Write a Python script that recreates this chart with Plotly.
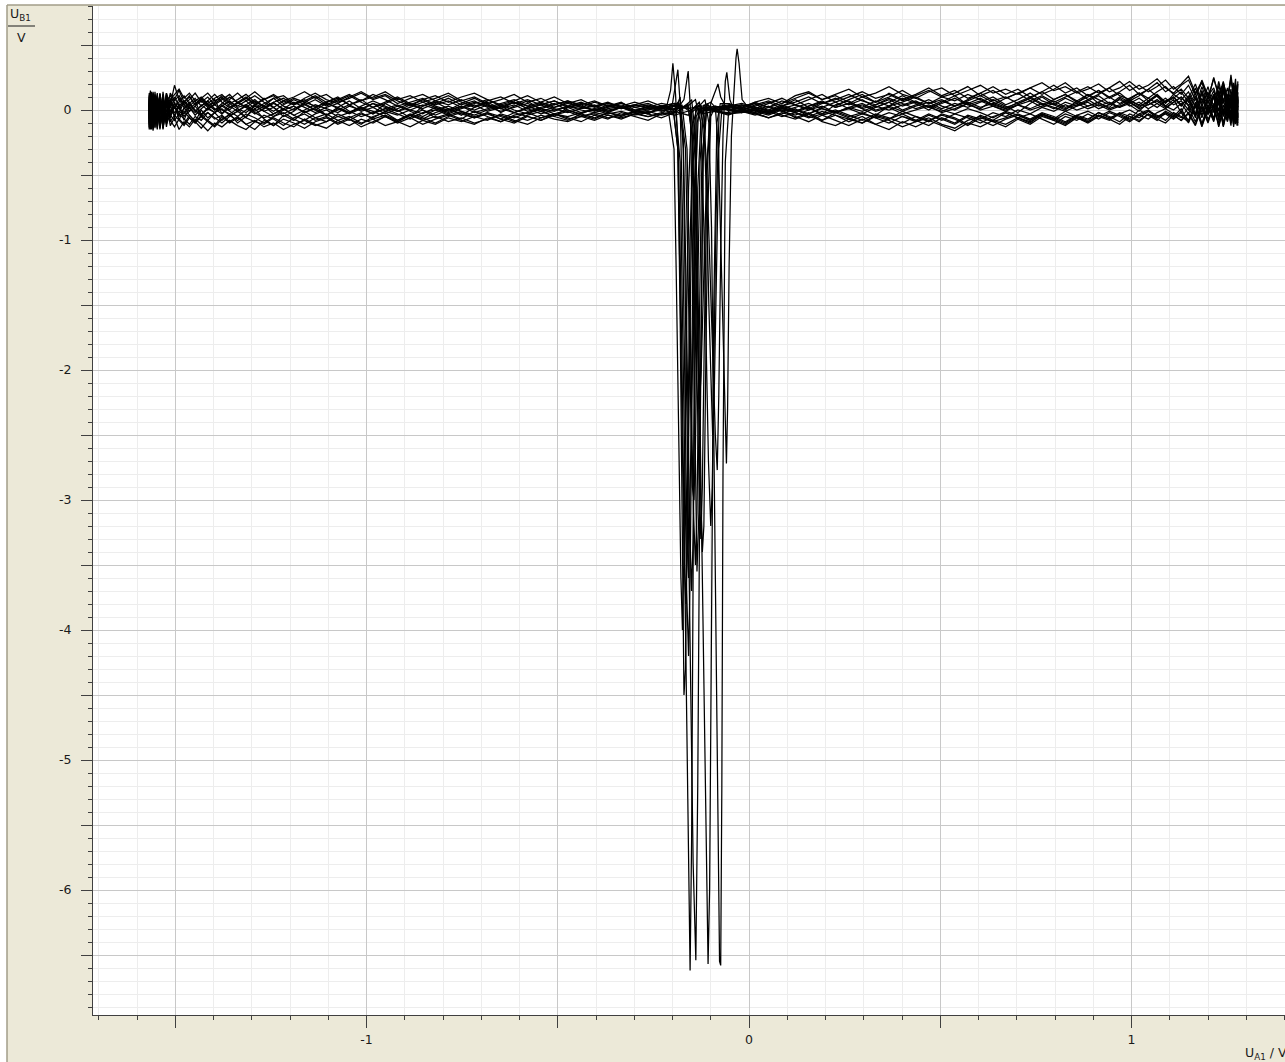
import plotly.graph_objects as go

# ---------------- data ----------------
# U_A1 sweep positions (V) shared by all recorded sweeps
U_A1 = [
    -1.568, -1.567, -1.565, -1.562, -1.558, -1.553, -1.547, -1.540, -1.532, -1.523,
    -1.513, -1.502, -1.490, -1.477, -1.463, -1.448, -1.432, -1.415, -1.397, -1.378,
    -1.358, -1.337, -1.315, -1.292, -1.268, -1.243, -1.217, -1.190, -1.162, -1.134,
    -1.105, -1.075, -1.045, -1.014, -0.983, -0.951, -0.919, -0.886, -0.853, -0.820,
    -0.786, -0.752, -0.718, -0.684, -0.649, -0.614, -0.579, -0.544, -0.509, -0.474,
    -0.439, -0.404, -0.369, -0.334, -0.299, -0.264, -0.229, -0.194, -0.159, -0.124,
    -0.089, -0.054, -0.019, 0.016, 0.051, 0.086, 0.121, 0.156, 0.191, 0.226,
    0.261, 0.296, 0.331, 0.366, 0.401, 0.436, 0.470, 0.504, 0.538, 0.572,
    0.605, 0.638, 0.671, 0.703, 0.735, 0.766, 0.797, 0.827, 0.857, 0.886,
    0.914, 0.942, 0.969, 0.995, 1.020, 1.044, 1.067, 1.089, 1.110, 1.130,
    1.149, 1.167, 1.184, 1.200, 1.215, 1.228, 1.240, 1.251, 1.260, 1.267,
    1.272, 1.276, 1.278,
]

# U_B1 baseline (V) of each sweep on the U_A1 positions
UB1_01 = [
    0.10, -0.12, 0.08, -0.14, 0.11, -0.09, 0.12, -0.13, 0.06, -0.10,
    0.09, -0.06, 0.05, -0.08, 0.03, 0.07, -0.04, 0.02, 0.08, -0.03,
    0.05, 0.01, -0.06, 0.04, 0.09, 0.02, -0.05, -0.01, 0.06, 0.03,
    -0.04, 0.02, 0.07, 0.01, -0.03, 0.05, 0.00, -0.06, 0.03, 0.06,
    0.01, -0.04, 0.02, 0.05, -0.02, 0.03, 0.07, 0.00, -0.05, 0.02,
    0.04, -0.01, 0.03, 0.06, 0.00, -0.03, 0.02, 0.01, 0.03, 0.00,
    0.02, 0.04, 0.01, 0.05, -0.02, 0.03, 0.08, 0.02, -0.03, 0.04,
    0.07, 0.01, -0.04, 0.03, 0.09, 0.05, 0.00, 0.06, 0.11, 0.04,
    0.01, 0.08, 0.03, -0.02, 0.05, 0.10, 0.04, 0.00, 0.07, 0.12,
    0.05, 0.02, 0.09, 0.04, -0.01, 0.06, 0.11, 0.03, 0.08, -0.02,
    0.10, -0.06, 0.14, -0.04, 0.12, -0.08, 0.16, -0.05, 0.13, -0.09,
    0.15, -0.07, 0.11,
]
UB1_02 = [
    -0.13, 0.09, -0.10, 0.13, -0.07, 0.10, -0.14, 0.07, -0.11, 0.08,
    -0.05, 0.06, -0.08, 0.02, -0.04, -0.09, 0.00, -0.06, -0.02, -0.08,
    -0.03, -0.10, -0.05, 0.01, -0.07, -0.12, -0.04, -0.08, -0.01, -0.06,
    -0.09, -0.03, -0.07, -0.11, -0.05, -0.02, -0.08, -0.04, 0.00, -0.06,
    -0.03, -0.07, -0.01, -0.05, -0.09, -0.04, -0.02, -0.06, -0.03, 0.00,
    -0.04, -0.07, -0.02, -0.05, -0.01, -0.03, -0.06, -0.02, 0.00, -0.03,
    -0.01, -0.04, 0.00, -0.02, -0.06, -0.03, 0.01, -0.05, -0.08, -0.02,
    -0.06, -0.10, -0.04, -0.07, -0.01, -0.05, -0.09, -0.03, -0.06, -0.11,
    -0.04, -0.08, -0.02, -0.06, -0.10, -0.03, -0.07, -0.01, -0.05, -0.08,
    -0.02, -0.06, -0.03, -0.07, 0.00, -0.04, -0.08, -0.02, -0.05, 0.01,
    -0.09, 0.06, -0.11, 0.04, -0.07, 0.09, -0.12, 0.05, -0.08, 0.10,
    -0.10, 0.07, -0.06,
]
UB1_03 = [
    0.05, -0.08, 0.12, -0.05, 0.09, -0.11, 0.04, 0.10, -0.07, 0.13,
    0.02, 0.08, 0.15, 0.06, 0.11, 0.04, 0.09, 0.13, 0.07, 0.10,
    0.05, 0.08, 0.12, 0.06, 0.03, 0.09, 0.11, 0.05, 0.08, 0.02,
    0.06, 0.10, 0.04, 0.07, 0.12, 0.08, 0.03, 0.06, 0.09, 0.04,
    0.07, 0.02, 0.05, 0.08, 0.03, 0.06, 0.01, 0.04, 0.07, 0.02,
    0.05, 0.03, 0.06, 0.02, 0.04, 0.07, 0.03, 0.05, 0.02, 0.04,
    0.03, 0.05, 0.02, 0.06, 0.09, 0.05, 0.11, 0.14, 0.08, 0.12,
    0.16, 0.10, 0.13, 0.18, 0.12, 0.09, 0.14, 0.17, 0.11, 0.15,
    0.19, 0.13, 0.16, 0.12, 0.17, 0.21, 0.15, 0.18, 0.13, 0.16,
    0.20, 0.14, 0.17, 0.22, 0.16, 0.19, 0.24, 0.17, 0.13, 0.19,
    0.23, 0.12, 0.21, 0.08, 0.25, 0.10, 0.22, 0.06, 0.27, 0.11,
    0.24, 0.05, 0.20,
]
UB1_04 = [
    -0.15, 0.06, -0.12, 0.09, -0.16, 0.03, -0.10, 0.11, -0.14, 0.05,
    -0.12, -0.06, -0.15, -0.09, -0.13, -0.07, -0.11, -0.16, -0.10, -0.13,
    -0.08, -0.12, -0.15, -0.09, -0.11, -0.06, -0.10, -0.13, -0.07, -0.11,
    -0.14, -0.08, -0.05, -0.10, -0.07, -0.12, -0.09, -0.04, -0.08, -0.11,
    -0.06, -0.09, -0.05, -0.02, -0.07, -0.10, -0.05, -0.08, -0.03, -0.06,
    -0.09, -0.04, -0.07, -0.02, -0.05, -0.08, -0.03, -0.01, -0.04, -0.02,
    0.00, -0.03, 0.01, -0.02, 0.02, -0.01, -0.04, 0.00, 0.03, -0.02,
    0.01, 0.04, -0.01, 0.02, -0.03, 0.00, 0.03, -0.02, 0.01, 0.05,
    0.00, 0.03, -0.01, 0.04, 0.07, 0.02, 0.05, 0.01, 0.04, 0.08,
    0.03, 0.06, 0.02, 0.05, 0.09, 0.04, 0.07, 0.02, 0.06, 0.10,
    0.04, -0.05, 0.09, -0.03, 0.12, -0.06, 0.08, -0.04, 0.11, -0.02,
    0.07, -0.05, 0.09,
]
UB1_05 = [
    0.08, -0.05, 0.14, -0.10, 0.06, -0.13, 0.10, -0.04, 0.12, -0.08,
    0.04, 0.19, 0.08, 0.02, 0.06, -0.01, 0.03, 0.07, 0.01, -0.03,
    0.02, 0.05, 0.09, 0.04, 0.08, 0.12, 0.07, 0.10, 0.14, 0.09,
    0.12, 0.06, 0.09, 0.13, 0.08, 0.11, 0.05, 0.09, 0.12, 0.07,
    0.04, 0.08, 0.03, 0.06, 0.01, 0.04, -0.01, 0.02, 0.05, 0.00,
    -0.03, 0.01, -0.02, 0.02, -0.01, 0.03, 0.00, 0.02, 0.04, 0.01,
    0.03, 0.00, 0.02, -0.01, -0.04, 0.00, -0.06, -0.02, -0.08, -0.04,
    -0.09, -0.05, -0.11, -0.07, -0.03, -0.08, -0.12, -0.06, -0.10, -0.04,
    -0.07, -0.02, -0.05, 0.00, -0.03, 0.02, -0.01, 0.04, 0.00, 0.03,
    0.06, 0.01, 0.04, 0.08, 0.03, 0.06, 0.02, 0.07, 0.10, 0.04,
    0.08, -0.04, 0.13, -0.02, 0.10, -0.07, 0.15, 0.00, 0.11, -0.05,
    0.14, -0.03, 0.08,
]
UB1_06 = [
    -0.10, 0.12, -0.06, 0.08, -0.13, 0.10, -0.08, 0.13, -0.05, 0.09,
    -0.02, 0.05, 0.01, -0.03, 0.04, 0.00, -0.05, -0.02, -0.07, -0.04,
    -0.09, -0.05, -0.11, -0.08, -0.13, -0.10, -0.15, -0.11, -0.08, -0.12,
    -0.09, -0.05, -0.08, -0.03, -0.06, -0.01, -0.04, 0.00, -0.03, 0.02,
    -0.01, 0.03, 0.00, 0.04, 0.01, -0.02, 0.02, 0.05, 0.01, -0.02,
    0.01, 0.03, -0.01, 0.02, 0.00, -0.02, 0.01, 0.03, 0.01, -0.01,
    0.01, 0.03, 0.00, 0.04, 0.07, 0.03, 0.06, 0.10, 0.05, 0.08,
    0.12, 0.07, 0.04, 0.09, 0.05, 0.01, 0.04, 0.00, -0.03, 0.01,
    -0.02, -0.06, -0.01, -0.04, -0.08, -0.03, -0.07, -0.11, -0.05, -0.09,
    -0.04, -0.07, -0.02, -0.05, -0.09, -0.03, -0.06, -0.01, -0.04, -0.08,
    -0.02, -0.11, 0.03, -0.09, 0.05, -0.12, 0.01, -0.08, 0.06, -0.13,
    0.02, -0.10, 0.04,
]
UB1_07 = [
    0.12, -0.09, 0.05, -0.12, 0.10, -0.06, 0.13, -0.11, 0.07, -0.04,
    0.06, 0.01, 0.09, 0.04, -0.01, 0.03, 0.07, 0.02, -0.02, 0.04,
    0.00, 0.06, 0.02, -0.03, 0.01, 0.05, 0.01, -0.04, 0.00, 0.04,
    0.01, -0.02, 0.03, 0.00, 0.05, 0.02, -0.01, 0.04, 0.08, 0.03,
    0.00, 0.05, 0.09, 0.04, 0.01, 0.06, 0.03, -0.01, 0.02, 0.06,
    0.02, 0.00, 0.04, 0.01, 0.03, 0.05, 0.01, 0.00, 0.02, 0.03,
    0.00, 0.02, 0.04, 0.01, 0.05, 0.09, 0.04, 0.01, 0.06, 0.03,
    0.08, 0.12, 0.06, 0.10, 0.15, 0.09, 0.05, 0.10, 0.07, 0.12,
    0.08, 0.04, 0.09, 0.13, 0.07, 0.11, 0.06, 0.10, 0.14, 0.08,
    0.12, 0.17, 0.11, 0.08, 0.13, 0.09, 0.14, 0.18, 0.12, 0.16,
    0.09, 0.20, 0.05, 0.18, 0.02, 0.22, 0.07, 0.17, 0.01, 0.21,
    0.06, 0.19, 0.04,
]
UB1_08 = [
    -0.07, 0.11, -0.14, 0.04, -0.09, 0.12, -0.03, 0.08, -0.12, 0.10,
    -0.06, 0.03, -0.02, 0.06, 0.02, -0.04, 0.01, 0.05, 0.00, 0.03,
    0.07, 0.02, 0.04, -0.01, 0.03, -0.03, 0.01, 0.06, 0.02, -0.02,
    0.02, 0.05, -0.01, -0.05, -0.02, 0.01, -0.03, -0.07, -0.02, 0.00,
    -0.04, -0.01, -0.05, -0.08, -0.03, -0.06, -0.02, 0.01, -0.03, -0.05,
    -0.02, 0.00, -0.03, -0.01, -0.04, -0.02, 0.00, -0.02, -0.01, 0.00,
    -0.02, 0.01, -0.01, -0.03, 0.00, -0.04, -0.07, -0.03, -0.09, -0.12,
    -0.07, -0.10, -0.05, -0.08, -0.13, -0.09, -0.06, -0.11, -0.14, -0.08,
    -0.05, -0.09, -0.06, -0.03, -0.07, -0.02, -0.05, -0.09, -0.04, -0.01,
    -0.05, -0.08, -0.03, 0.00, -0.04, -0.07, -0.02, 0.01, -0.03, -0.06,
    0.02, -0.09, 0.05, -0.07, 0.00, -0.10, 0.04, -0.06, 0.07, -0.11,
    0.03, -0.08, -0.02,
]
UB1_09 = [
    0.13, -0.04, 0.09, -0.13, 0.03, 0.11, -0.08, 0.06, -0.15, 0.04,
    0.08, 0.12, 0.16, 0.09, 0.13, 0.07, 0.10, 0.05, 0.09, 0.12,
    0.06, 0.03, 0.07, 0.01, 0.05, 0.09, 0.03, 0.00, 0.04, 0.08,
    0.03, 0.07, 0.11, 0.06, 0.02, 0.05, 0.09, 0.04, 0.01, 0.05,
    0.09, 0.04, 0.07, 0.02, 0.05, 0.08, 0.03, 0.06, 0.10, 0.05,
    0.02, 0.06, 0.03, 0.01, 0.04, 0.02, 0.05, 0.03, 0.01, 0.03,
    0.02, 0.04, 0.03, 0.06, 0.02, 0.05, 0.09, 0.13, 0.08, 0.11,
    0.06, 0.02, 0.07, 0.03, 0.06, 0.10, 0.05, 0.08, 0.03, 0.07,
    0.11, 0.06, 0.02, 0.05, 0.09, 0.04, 0.08, 0.12, 0.07, 0.03,
    0.06, 0.10, 0.05, 0.09, 0.13, 0.07, 0.11, 0.06, 0.09, 0.14,
    0.06, 0.17, 0.03, 0.14, -0.02, 0.19, 0.05, 0.12, -0.04, 0.16,
    0.08, 0.13, 0.02,
]
UB1_10 = [
    -0.11, 0.07, -0.15, 0.02, -0.08, 0.09, -0.13, 0.05, -0.10, 0.11,
    -0.09, -0.04, -0.08, -0.12, -0.06, -0.10, -0.05, -0.09, -0.13, -0.07,
    -0.04, -0.08, -0.03, -0.06, -0.10, -0.05, -0.02, -0.07, -0.11, -0.06,
    -0.03, -0.08, -0.12, -0.07, -0.10, -0.05, -0.09, -0.13, -0.08, -0.05,
    -0.09, -0.06, -0.10, -0.07, -0.04, -0.08, -0.11, -0.06, -0.03, -0.07,
    -0.05, -0.08, -0.04, -0.06, -0.03, -0.05, -0.02, -0.04, -0.01, -0.03,
    -0.02, -0.04, -0.01, 0.01, -0.02, 0.02, -0.01, 0.03, 0.06, 0.02,
    0.05, 0.01, 0.04, 0.08, 0.03, 0.06, 0.02, 0.05, 0.09, 0.04,
    0.07, 0.03, 0.00, 0.04, 0.01, 0.05, 0.02, -0.01, 0.03, 0.06,
    0.01, 0.04, 0.08, 0.03, 0.06, 0.01, 0.05, 0.09, 0.04, 0.07,
    0.00, 0.11, -0.04, 0.08, -0.07, 0.13, -0.01, 0.09, -0.05, 0.12,
    -0.02, 0.10, 0.00,
]
UB1_11 = [
    0.07, -0.13, 0.11, -0.07, 0.14, -0.02, 0.08, -0.12, 0.10, -0.06,
    0.03, -0.02, 0.02, -0.05, -0.01, 0.03, -0.03, 0.01, 0.04, 0.00,
    -0.03, 0.01, -0.02, 0.03, -0.01, -0.05, 0.00, 0.03, -0.02, 0.01,
    -0.04, 0.00, 0.04, -0.01, 0.02, -0.03, 0.01, 0.05, 0.00, -0.04,
    0.00, 0.03, -0.02, 0.01, 0.04, 0.00, -0.03, 0.01, -0.01, 0.03,
    0.00, -0.02, 0.01, 0.03, 0.00, 0.02, -0.01, 0.01, 0.00, 0.02,
    0.00, -0.01, 0.02, 0.00, 0.03, -0.01, 0.02, 0.05, 0.01, -0.02,
    0.02, -0.01, 0.03, 0.00, 0.04, 0.07, 0.02, -0.01, 0.03, 0.06,
    0.02, 0.05, 0.01, 0.04, 0.00, 0.03, 0.07, 0.02, 0.05, 0.01,
    0.04, 0.00, 0.03, 0.06, 0.01, 0.04, 0.08, 0.03, 0.00, 0.05,
    -0.03, 0.09, -0.06, 0.07, -0.01, 0.11, -0.05, 0.06, -0.08, 0.10,
    -0.03, 0.08, -0.06,
]
UB1_12 = [
    -0.04, 0.10, -0.09, 0.14, -0.06, 0.08, -0.11, 0.12, -0.03, 0.07,
    0.11, 0.05, 0.01, 0.06, 0.10, 0.04, 0.08, 0.03, 0.06, 0.11,
    0.08, 0.13, 0.07, 0.11, 0.06, 0.02, 0.07, 0.04, 0.09, 0.13,
    0.08, 0.05, 0.10, 0.14, 0.09, 0.12, 0.07, 0.03, 0.08, 0.11,
    0.06, 0.10, 0.13, 0.08, 0.04, 0.07, 0.11, 0.06, 0.02, 0.05,
    0.08, 0.03, 0.05, 0.02, 0.04, 0.01, 0.03, 0.05, 0.02, 0.01,
    0.03, 0.02, 0.04, 0.01, -0.02, 0.02, -0.01, 0.03, 0.07, 0.02,
    0.05, 0.10, 0.06, 0.13, 0.08, 0.12, 0.17, 0.11, 0.15, 0.09,
    0.13, 0.18, 0.12, 0.16, 0.10, 0.14, 0.19, 0.13, 0.17, 0.11,
    0.15, 0.10, 0.14, 0.19, 0.12, 0.16, 0.21, 0.14, 0.18, 0.12,
    0.19, 0.08, 0.23, 0.11, 0.17, 0.04, 0.21, 0.09, 0.25, 0.07,
    0.18, 0.10, 0.14,
]
UB1_13 = [
    0.09, -0.14, 0.04, -0.09, 0.12, -0.05, 0.07, -0.15, 0.03, -0.11,
    -0.03, 0.02, -0.05, -0.01, -0.06, -0.10, -0.04, -0.08, -0.02, 0.01,
    -0.04, -0.01, 0.03, -0.02, -0.06, -0.03, 0.01, -0.04, -0.08, -0.03,
    0.00, -0.05, -0.02, 0.02, -0.01, -0.05, -0.09, -0.04, -0.07, -0.02,
    0.01, -0.03, -0.06, -0.02, -0.05, -0.09, -0.04, -0.01, -0.05, -0.08,
    -0.03, -0.06, -0.02, -0.04, -0.01, -0.03, -0.05, -0.02, -0.01, -0.03,
    -0.01, -0.02, 0.00, -0.03, -0.06, -0.02, -0.05, -0.09, -0.04, -0.08,
    -0.12, -0.07, -0.11, -0.15, -0.09, -0.13, -0.08, -0.12, -0.16, -0.10,
    -0.13, -0.08, -0.11, -0.06, -0.09, -0.04, -0.08, -0.03, -0.06, -0.10,
    -0.05, -0.01, -0.04, -0.08, -0.03, 0.00, -0.05, -0.02, -0.06, -0.01,
    -0.08, 0.04, -0.12, 0.02, -0.09, 0.07, -0.13, 0.01, -0.07, 0.05,
    -0.11, 0.03, -0.08,
]
UB1_14 = [
    -0.12, 0.05, -0.07, 0.11, -0.15, 0.07, -0.09, 0.03, -0.13, 0.12,
    0.00, -0.04, 0.03, 0.07, 0.02, -0.02, 0.04, 0.00, 0.05, 0.09,
    0.03, -0.01, 0.04, 0.08, 0.02, 0.06, 0.00, 0.03, -0.02, 0.02,
    0.06, 0.01, -0.03, 0.01, 0.05, -0.01, 0.03, 0.00, 0.04, 0.01,
    -0.03, 0.01, 0.04, -0.01, 0.02, 0.06, 0.01, 0.04, 0.00, 0.03,
    0.01, 0.04, 0.00, 0.02, -0.01, 0.01, 0.03, 0.00, 0.01, -0.01,
    0.01, 0.00, -0.02, 0.02, 0.00, 0.04, 0.00, -0.03, 0.02, 0.06,
    0.01, -0.03, 0.02, 0.06, 0.00, 0.04, 0.08, 0.03, 0.00, 0.05,
    0.09, 0.04, 0.01, 0.06, 0.10, 0.05, 0.01, 0.06, 0.03, 0.07,
    0.11, 0.05, 0.02, 0.07, 0.04, 0.09, 0.05, 0.01, 0.06, 0.10,
    0.03, 0.13, -0.02, 0.10, 0.01, 0.15, -0.03, 0.11, 0.04, 0.16,
    -0.01, 0.12, 0.05,
]
UB1_15 = [
    0.11, -0.10, 0.06, -0.15, 0.13, -0.04, 0.09, -0.12, 0.14, -0.07,
    0.05, 0.10, 0.03, 0.07, 0.01, 0.05, 0.09, 0.04, 0.00, 0.05,
    0.10, 0.06, 0.02, 0.07, 0.03, -0.01, 0.04, 0.08, 0.04, 0.00,
    0.05, 0.02, -0.02, 0.03, 0.07, 0.03, -0.01, 0.02, 0.06, 0.02,
    -0.02, 0.02, 0.06, 0.03, -0.01, 0.02, 0.05, 0.01, 0.04, 0.07,
    0.03, 0.00, 0.02, 0.05, 0.02, 0.00, 0.03, 0.01, 0.02, 0.00,
    0.02, 0.03, 0.00, 0.03, 0.06, 0.01, 0.04, 0.00, 0.05, 0.09,
    0.04, 0.08, 0.02, 0.06, 0.11, 0.06, 0.02, 0.07, 0.03, 0.08,
    0.13, 0.07, 0.10, 0.05, 0.09, 0.14, 0.08, 0.12, 0.06, 0.10,
    0.15, 0.09, 0.13, 0.07, 0.11, 0.16, 0.10, 0.05, 0.12, 0.08,
    0.14, 0.02, 0.18, 0.05, 0.15, -0.01, 0.19, 0.04, 0.16, 0.00,
    0.20, 0.06, 0.13,
]
UB1_16 = [
    -0.09, 0.13, -0.11, 0.06, -0.14, 0.09, -0.05, 0.12, -0.09, 0.07,
    -0.04, -0.08, -0.03, -0.07, -0.11, -0.05, -0.08, -0.02, -0.06, -0.10,
    -0.05, -0.01, -0.06, -0.09, -0.04, -0.07, -0.12, -0.06, -0.03, -0.08,
    -0.05, -0.10, -0.06, -0.02, -0.07, -0.04, -0.08, -0.03, -0.06, -0.10,
    -0.05, -0.02, -0.06, -0.03, -0.07, -0.02, -0.05, -0.08, -0.04, -0.01,
    -0.05, -0.02, -0.04, -0.07, -0.03, -0.01, -0.04, -0.02, -0.01, -0.02,
    0.00, -0.03, -0.01, -0.04, -0.01, -0.05, -0.02, -0.06, -0.03, 0.00,
    -0.04, -0.08, -0.03, -0.06, -0.10, -0.05, -0.08, -0.04, -0.07, -0.12,
    -0.06, -0.09, -0.13, -0.07, -0.11, -0.05, -0.08, -0.12, -0.06, -0.09,
    -0.04, -0.07, -0.11, -0.05, -0.08, -0.03, -0.07, -0.10, -0.04, -0.08,
    -0.03, -0.12, 0.02, -0.10, 0.04, -0.13, 0.00, -0.09, 0.05, -0.11,
    -0.01, -0.12, 0.03,
]
UB1_17 = [
    0.04, -0.11, 0.13, -0.08, 0.07, -0.14, 0.11, -0.03, 0.08, -0.13,
    0.07, 0.02, 0.06, 0.11, 0.05, 0.09, 0.03, 0.07, 0.12, 0.06,
    0.02, 0.06, 0.10, 0.05, 0.01, 0.06, 0.09, 0.04, 0.07, 0.11,
    0.06, 0.09, 0.04, 0.08, 0.02, 0.06, 0.10, 0.05, 0.03, 0.07,
    0.11, 0.06, 0.02, 0.07, 0.10, 0.05, 0.08, 0.04, 0.07, 0.03,
    0.06, 0.02, 0.05, 0.03, 0.06, 0.03, 0.01, 0.04, 0.02, 0.03,
    0.01, 0.03, 0.05, 0.02, -0.01, 0.03, 0.00, -0.03, 0.01, -0.02,
    0.02, 0.05, 0.00, 0.03, -0.01, 0.03, 0.06, 0.01, 0.05, 0.02,
    0.06, 0.10, 0.04, 0.08, 0.13, 0.07, 0.04, 0.09, 0.05, 0.12,
    0.08, 0.04, 0.10, 0.06, 0.02, 0.07, 0.12, 0.06, 0.10, 0.03,
    0.11, -0.03, 0.15, 0.02, 0.12, -0.05, 0.17, 0.03, 0.09, -0.06,
    0.14, 0.01, 0.10,
]
UB1_18 = [
    -0.14, 0.08, -0.05, 0.12, -0.11, 0.05, -0.15, 0.09, -0.07, 0.13,
    -0.08, -0.13, -0.07, -0.11, -0.04, -0.09, -0.14, -0.08, -0.12, -0.05,
    -0.10, -0.06, -0.11, -0.15, -0.08, -0.12, -0.07, -0.10, -0.14, -0.09,
    -0.06, -0.11, -0.07, -0.13, -0.09, -0.05, -0.10, -0.06, -0.11, -0.07,
    -0.04, -0.08, -0.11, -0.06, -0.09, -0.05, -0.08, -0.04, -0.07, -0.09,
    -0.05, -0.03, -0.06, -0.04, -0.02, -0.05, -0.03, -0.01, -0.03, -0.02,
    -0.01, -0.03, -0.02, 0.00, -0.03, 0.01, -0.02, -0.05, -0.01, -0.04,
    -0.07, -0.03, -0.06, -0.02, -0.05, -0.09, -0.04, -0.08, -0.03, -0.06,
    -0.10, -0.05, -0.02, -0.06, -0.03, -0.07, -0.11, -0.05, -0.08, -0.03,
    -0.07, -0.02, -0.05, -0.09, -0.04, -0.01, -0.06, -0.03, -0.07, -0.02,
    -0.10, 0.03, -0.13, 0.01, -0.08, 0.06, -0.12, 0.02, -0.10, 0.07,
    -0.09, 0.00, -0.12,
]
UB1_19 = [
    0.06, -0.07, 0.15, -0.12, 0.04, -0.08, 0.11, -0.14, 0.09, -0.02,
    0.13, 0.07, 0.11, 0.04, 0.08, 0.13, 0.06, 0.10, 0.04, 0.08,
    0.12, 0.05, 0.09, 0.14, 0.08, 0.11, 0.05, 0.09, 0.06, 0.10,
    0.04, 0.08, 0.12, 0.07, 0.10, 0.14, 0.08, 0.11, 0.06, 0.09,
    0.13, 0.07, 0.10, 0.05, 0.08, 0.12, 0.06, 0.09, 0.04, 0.07,
    0.04, 0.07, 0.03, 0.05, 0.02, 0.04, 0.01, 0.03, 0.02, 0.01,
    0.02, 0.00, 0.03, 0.05, 0.02, 0.07, 0.04, 0.08, 0.12, 0.06,
    0.10, 0.14, 0.09, 0.12, 0.07, 0.11, 0.15, 0.10, 0.13, 0.18,
    0.11, 0.15, 0.09, 0.13, 0.17, 0.12, 0.16, 0.21, 0.14, 0.18,
    0.13, 0.17, 0.22, 0.15, 0.19, 0.14, 0.18, 0.23, 0.16, 0.20,
    0.26, 0.13, 0.22, 0.09, 0.24, 0.12, 0.20, 0.08, 0.23, 0.14,
    0.19, 0.09, 0.22,
]
UB1_20 = [
    -0.06, 0.10, -0.12, 0.07, -0.09, 0.14, -0.06, 0.10, -0.14, 0.06,
    -0.01, 0.03, -0.03, 0.01, 0.05, 0.00, -0.04, 0.01, -0.02, 0.03,
    -0.01, -0.05, 0.00, 0.04, -0.01, 0.02, -0.03, 0.01, 0.05, 0.00,
    -0.04, 0.01, -0.02, 0.02, -0.03, 0.01, 0.04, -0.01, -0.05, 0.00,
    0.03, -0.01, -0.04, 0.00, 0.03, -0.02, 0.01, -0.03, 0.00, 0.02,
    -0.02, 0.01, -0.01, 0.02, -0.02, 0.00, 0.02, -0.01, 0.01, 0.00,
    -0.01, 0.01, -0.02, 0.00, -0.03, 0.01, -0.02, 0.02, -0.04, -0.01,
    -0.05, -0.02, -0.06, -0.10, -0.05, -0.08, -0.03, -0.07, -0.11, -0.05,
    -0.08, -0.12, -0.07, -0.04, -0.08, -0.03, -0.06, -0.10, -0.04, -0.07,
    -0.02, -0.05, -0.09, -0.03, -0.06, -0.01, -0.04, -0.08, -0.02, -0.05,
    -0.09, 0.05, -0.11, 0.03, -0.07, 0.08, -0.10, 0.04, -0.12, 0.06,
    -0.08, 0.02, -0.10,
]

# the dip of each sweep near U_A1 = -0.1 V: (U_A1, U_B1) points
DIP_01_X = [-0.215, -0.205, -0.199, -0.192, -0.184, -0.176, -0.168, -0.160, -0.154, -0.150, -0.146, -0.142, -0.136, -0.126]
DIP_01_Y = [0.03, 0.15, 0.36, 0.12, -0.40, -1.80, -3.40, -5.30, -6.62, -5.60, -3.50, -1.20, -0.10, 0.02]
DIP_02_X = [-0.190, -0.180, -0.172, -0.166, -0.160, -0.153, -0.146, -0.139, -0.134, -0.128, -0.120, -0.110]
DIP_02_Y = [0.02, 0.10, -0.30, -1.50, -2.90, -4.40, -5.80, -6.54, -5.20, -2.60, -0.30, 0.04]
DIP_03_X = [-0.170, -0.150, -0.140, -0.132, -0.124, -0.116, -0.110, -0.107, -0.103, -0.098, -0.092, -0.084, -0.075]
DIP_03_Y = [0.02, 0.08, -0.20, -1.60, -3.20, -4.80, -6.00, -6.57, -6.00, -4.00, -1.50, -0.10, 0.05]
DIP_04_X = [-0.130, -0.115, -0.105, -0.098, -0.092, -0.086, -0.081, -0.077, -0.074, -0.071, -0.068, -0.062, -0.052, -0.040]
DIP_04_Y = [0.03, 0.08, -0.10, -0.90, -2.40, -4.10, -5.60, -6.55, -6.58, -5.20, -2.80, -0.40, 0.05, 0.02]
DIP_05_X = [-0.220, -0.200, -0.186, -0.180, -0.174, -0.168, -0.162, -0.158, -0.152, -0.146, -0.138, -0.125]
DIP_05_Y = [0.00, 0.05, 0.31, 0.05, -0.80, -2.00, -3.30, -3.60, -2.60, -1.00, -0.05, 0.03]
DIP_06_X = [-0.210, -0.196, -0.186, -0.180, -0.174, -0.170, -0.166, -0.160, -0.154, -0.146, -0.135]
DIP_06_Y = [0.02, -0.04, -0.30, -1.60, -3.30, -4.50, -4.30, -2.80, -1.00, -0.10, 0.02]
DIP_07_X = [-0.190, -0.170, -0.159, -0.153, -0.147, -0.141, -0.136, -0.131, -0.126, -0.120, -0.110, -0.095]
DIP_07_Y = [0.00, 0.08, 0.30, 0.00, -1.20, -2.60, -3.55, -3.10, -1.70, -0.40, 0.05, 0.00]
DIP_08_X = [-0.170, -0.150, -0.140, -0.134, -0.128, -0.122, -0.118, -0.114, -0.108, -0.100, -0.088]
DIP_08_Y = [0.02, -0.02, -0.40, -1.60, -2.80, -3.40, -3.20, -2.20, -0.80, -0.05, 0.03]
DIP_09_X = [-0.120, -0.100, -0.088, -0.080, -0.074, -0.068, -0.063, -0.059, -0.056, -0.052, -0.046, -0.040, -0.034, -0.031, -0.026, -0.018, -0.005]
DIP_09_Y = [0.03, 0.06, 0.02, -0.30, -1.00, -1.80, -2.40, -2.72, -2.30, -1.20, -0.20, 0.15, 0.40, 0.47, 0.36, 0.08, 0.03]
DIP_10_X = [-0.150, -0.130, -0.118, -0.110, -0.102, -0.094, -0.088, -0.083, -0.079, -0.074, -0.068, -0.062, -0.058, -0.050, -0.040]
DIP_10_Y = [0.00, 0.06, -0.05, -0.50, -1.20, -2.00, -2.50, -2.77, -2.20, -1.10, -0.20, 0.22, 0.29, 0.08, 0.00]
DIP_11_X = [-0.160, -0.140, -0.126, -0.118, -0.112, -0.106, -0.100, -0.096, -0.092, -0.086, -0.078, -0.065]
DIP_11_Y = [0.03, 0.08, -0.10, -0.90, -1.90, -2.70, -3.20, -2.90, -2.00, -0.80, 0.00, 0.04]
DIP_12_X = [-0.180, -0.160, -0.148, -0.142, -0.136, -0.130, -0.125, -0.118, -0.110, -0.100, -0.088, -0.081, -0.074, -0.060]
DIP_12_Y = [0.00, 0.04, -0.20, -0.90, -1.70, -2.30, -2.00, -1.20, -0.40, 0.05, 0.14, 0.20, 0.10, 0.02]
DIP_13_X = [-0.230, -0.210, -0.196, -0.190, -0.184, -0.178, -0.174, -0.170, -0.165, -0.158, -0.150, -0.138]
DIP_13_Y = [0.03, -0.02, -0.30, -1.30, -2.50, -3.60, -4.00, -3.40, -2.00, -0.60, 0.00, 0.03]
DIP_14_X = [-0.200, -0.180, -0.166, -0.160, -0.154, -0.148, -0.144, -0.140, -0.135, -0.128, -0.118, -0.105]
DIP_14_Y = [0.00, 0.05, -0.30, -1.20, -2.20, -2.90, -3.00, -2.60, -1.50, -0.40, 0.04, 0.00]
DIP_15_X = [-0.200, -0.185, -0.172, -0.166, -0.160, -0.155, -0.150, -0.146, -0.141, -0.134, -0.124, -0.110]
DIP_15_Y = [0.02, 0.06, -0.20, -1.10, -2.30, -3.20, -3.70, -3.30, -2.00, -0.60, 0.02, 0.00]
DIP_16_X = [-0.190, -0.175, -0.162, -0.156, -0.150, -0.145, -0.140, -0.136, -0.131, -0.124, -0.114, -0.100]
DIP_16_Y = [0.00, 0.04, -0.30, -1.20, -2.40, -3.10, -3.50, -3.10, -1.90, -0.50, 0.03, 0.01]
DIP_17_X = [-0.180, -0.160, -0.149, -0.143, -0.137, -0.131, -0.126, -0.122, -0.117, -0.110, -0.100, -0.085]
DIP_17_Y = [0.01, 0.05, -0.20, -1.00, -2.00, -2.80, -3.30, -2.90, -1.80, -0.50, 0.02, 0.00]
DIP_18_X = [-0.210, -0.192, -0.180, -0.174, -0.168, -0.163, -0.158, -0.154, -0.149, -0.142, -0.132, -0.118]
DIP_18_Y = [0.02, 0.00, -0.40, -1.50, -2.80, -3.70, -4.20, -3.60, -2.20, -0.70, 0.00, 0.02]
DIP_19_X = [-0.150, -0.130, -0.117, -0.111, -0.105, -0.100, -0.095, -0.091, -0.086, -0.079, -0.070, -0.055]
DIP_19_Y = [0.00, 0.04, -0.15, -0.70, -1.50, -2.10, -2.50, -2.20, -1.30, -0.30, 0.04, 0.01]
DIP_20_X = [-0.215, -0.198, -0.186, -0.180, -0.175, -0.170, -0.165, -0.161, -0.156, -0.149, -0.139, -0.125]
DIP_20_Y = [0.03, 0.00, -0.30, -1.40, -2.60, -3.40, -3.80, -3.30, -2.10, -0.60, 0.02, 0.03]

SWEEPS = [
    (UB1_01, DIP_01_X, DIP_01_Y), (UB1_02, DIP_02_X, DIP_02_Y),
    (UB1_03, DIP_03_X, DIP_03_Y), (UB1_04, DIP_04_X, DIP_04_Y),
    (UB1_05, DIP_05_X, DIP_05_Y), (UB1_06, DIP_06_X, DIP_06_Y),
    (UB1_07, DIP_07_X, DIP_07_Y), (UB1_08, DIP_08_X, DIP_08_Y),
    (UB1_09, DIP_09_X, DIP_09_Y), (UB1_10, DIP_10_X, DIP_10_Y),
    (UB1_11, DIP_11_X, DIP_11_Y), (UB1_12, DIP_12_X, DIP_12_Y),
    (UB1_13, DIP_13_X, DIP_13_Y), (UB1_14, DIP_14_X, DIP_14_Y),
    (UB1_15, DIP_15_X, DIP_15_Y), (UB1_16, DIP_16_X, DIP_16_Y),
    (UB1_17, DIP_17_X, DIP_17_Y), (UB1_18, DIP_18_X, DIP_18_Y),
    (UB1_19, DIP_19_X, DIP_19_Y), (UB1_20, DIP_20_X, DIP_20_Y),
]

X_TICK_VALS = [-1.5, -1.0, -0.5, 0.0, 0.5, 1.0]
X_TICK_TEXT = ["", "-1", "", "0", "", "1"]
Y_TICK_VALS = [0.5, 0.0, -0.5, -1.0, -1.5, -2.0, -2.5, -3.0, -3.5, -4.0, -4.5, -5.0, -5.5, -6.0, -6.5]
Y_TICK_TEXT = ["", "0", "", "-1", "", "-2", "", "-3", "", "-4", "", "-5", "", "-6", ""]

# ---------------- figure ----------------
W, H = 1285, 1062
L, R, T, B = 93, 0, 6, 47
PW, PH = W - L - R, H - T - B


def px(xp):
    return (xp - L) / PW


def py(yp):
    return (H - B - yp) / PH


fig = go.Figure()
for base, dx, dy in SWEEPS:
    xs, ys = [], []
    for x, y in zip(U_A1, base):
        if x < dx[0]:
            xs.append(x)
            ys.append(y)
    xs += dx
    ys += dy
    for x, y in zip(U_A1, base):
        if x > dx[-1]:
            xs.append(x)
            ys.append(y)
    fig.add_trace(go.Scatter(x=xs, y=ys, mode="lines",
                             line=dict(color="#000000", width=1.25),
                             hoverinfo="skip", showlegend=False))

tickfont = dict(family="DejaVu Sans, Tahoma, sans-serif", size=12.5, color="#1a1a1a")

fig.update_xaxes(
    range=[(L - 749) / 382.5, (W - R - 749) / 382.5],
    tickmode="array", tickvals=X_TICK_VALS, ticktext=X_TICK_TEXT,
    ticks="outside", ticklen=12, tickcolor="#404040", tickwidth=1,
    showgrid=True, gridcolor="#c8c8c8", gridwidth=1,
    zeroline=False, showline=True, linecolor="#404040", linewidth=1,
    tickfont=tickfont, ticklabelstandoff=1,
    minor=dict(tickmode="linear", tick0=0, dtick=0.1, ticks="outside", ticklen=4,
               tickcolor="#404040", showgrid=True, gridcolor="#ededed", gridwidth=1),
)
fig.update_yaxes(
    range=[(110 - (H - B)) / 130, (110 - T) / 130],
    tickmode="array", tickvals=Y_TICK_VALS, ticktext=Y_TICK_TEXT,
    ticks="outside", ticklen=11, tickcolor="#404040", tickwidth=1,
    showgrid=True, gridcolor="#c8c8c8", gridwidth=1,
    zeroline=False, showline=True, linecolor="#404040", linewidth=1,
    tickfont=tickfont, ticklabelstandoff=7,
    minor=dict(tickmode="linear", tick0=0, dtick=0.1, ticks="outside", ticklen=4,
               tickcolor="#404040", showgrid=True, gridcolor="#ededed", gridwidth=1),
)

shapes = [
    # white margins outside the beige frame
    dict(type="rect", xref="paper", yref="paper", x0=px(-5), x1=px(7), y0=py(H + 5), y1=py(-5),
         fillcolor="#ffffff", line=dict(width=0), layer="above"),
    dict(type="rect", xref="paper", yref="paper", x0=px(-5), x1=px(W + 5), y0=py(5), y1=py(-5),
         fillcolor="#ffffff", line=dict(width=0), layer="above"),
    # frame border lines
    dict(type="line", xref="paper", yref="paper", x0=px(7), x1=px(7), y0=py(5), y1=py(H + 5),
         line=dict(color="#a29c88", width=1.5), layer="above"),
    dict(type="line", xref="paper", yref="paper", x0=px(7), x1=px(W + 5), y0=py(5), y1=py(5),
         line=dict(color="#a29c88", width=1.5), layer="above"),
    # fraction bar of the y-axis label
    dict(type="line", xref="paper", yref="paper", x0=px(8), x1=px(35), y0=py(26), y1=py(26),
         line=dict(color="#1a1a1a", width=1), layer="above"),
]

label_font = dict(family="DejaVu Sans, Tahoma, sans-serif", size=12.5, color="#1a1a1a")
annotations = [
    dict(text="U<sub>B1</sub>", xref="paper", yref="paper", x=px(8), y=py(25),
         xanchor="left", yanchor="bottom", showarrow=False, font=label_font),
    dict(text="V", xref="paper", yref="paper", x=px(21), y=py(28),
         xanchor="center", yanchor="top", showarrow=False, font=label_font),
    dict(text="U<sub>A1</sub> / V", xref="paper", yref="paper", x=px(1243), y=py(1053),
         xanchor="left", yanchor="middle", showarrow=False, font=label_font),
]

fig.update_layout(
    width=W, height=H,
    margin=dict(l=L, r=R, t=T, b=B, pad=0),
    paper_bgcolor="#ECE9D8", plot_bgcolor="#ffffff",
    shapes=shapes, annotations=annotations,
    showlegend=False, hovermode=False,
)

fig.write_html(
    "out.html",
    config={"displayModeBar": False},
    post_script="document.body.style.margin='0';document.body.style.overflow='hidden';",
)
